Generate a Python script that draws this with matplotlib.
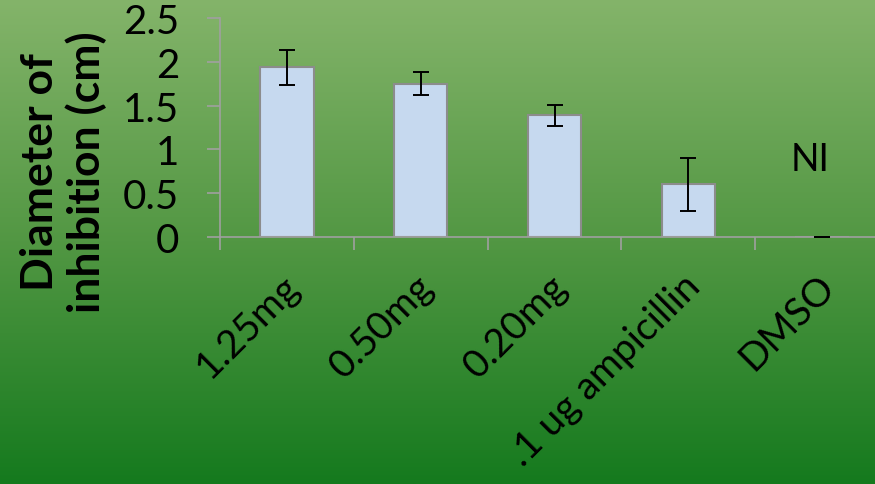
import numpy as np
import matplotlib.pyplot as plt
from matplotlib.colors import LinearSegmentedColormap

# Данные: диаметр зоны ингибирования
categories = ['1.25mg', '0.50mg', '0.20mg', '.1 ug ampicillin', 'DMSO']
diameters = [1.94, 1.75, 1.39, 0.60, 0.0]
errors = [0.20, 0.13, 0.12, 0.30, 0.0]
no_inhibition_label = 'NI'
no_inhibition_y = 0.89

plt.rcParams['font.family'] = ['Lato', 'DejaVu Sans']

fig = plt.figure(figsize=(8.75, 4.85), dpi=100)

# Зелёный градиентный фон
bg = fig.add_axes([0, 0, 1, 1], zorder=-10)
cmap = LinearSegmentedColormap.from_list('bg', ['#84b46a', '#529743', '#157a1e'])
bg.imshow(np.linspace(0, 1, 256).reshape(-1, 1), aspect='auto', cmap=cmap,
          extent=[0, 1, 0, 1])
bg.set_axis_off()

# Оси графика (правый край выходит за пределы рисунка)
ax = fig.add_axes([220 / 875, 1 - 238 / 485, 669 / 875, 219 / 485])
ax.patch.set_alpha(0)

x = np.arange(len(categories))
ax.bar(x, diameters, width=0.4, color='#c6d9ef', edgecolor='#8c8c8c',
       linewidth=1.5, zorder=2)
ax.errorbar(x, diameters, yerr=errors, fmt='none', ecolor='black',
            elinewidth=1.4, capsize=6, capthick=1.4, zorder=3)

ax.text(x[-1] - 0.09, no_inhibition_y, no_inhibition_label, fontsize=27,
        ha='center', va='center')

ax.set_xlim(-0.5, len(categories) - 0.5)
ax.set_ylim(0, 2.5)
ax.set_yticks(np.arange(0, 2.51, 0.5))
ax.set_yticklabels(['0', '0.5', '1', '1.5', '2', '2.5'], fontsize=29)
ax.set_xticks(np.arange(len(categories) + 1) - 0.5, minor=False)
ax.set_xticklabels([])
# подписи категорий чуть правее центра столбца
ax.set_xticks(x + 0.05, minor=True)
ax.set_xticklabels(categories, minor=True, fontsize=28, rotation=45,
                   ha='right', va='center', rotation_mode='anchor')

for side in ['top', 'right']:
    ax.spines[side].set_visible(False)
for side in ['left', 'bottom']:
    ax.spines[side].set_color('#a0a0a0')
    ax.spines[side].set_linewidth(1.2)

ax.tick_params(axis='y', which='major', length=9.5, width=1.2,
               color='#a0a0a0', pad=20)
ax.tick_params(axis='x', which='major', length=9.5, width=1.2,
               color='#a0a0a0', direction='out')
ax.tick_params(axis='x', which='minor', length=0, pad=31)

ax.set_ylabel('Diameter of\ninhibition (cm)', fontsize=32, fontweight='bold',
              linespacing=1.15)
ax.yaxis.set_label_coords(-0.169, 0.30)

fig.savefig('out.png', dpi=100)
